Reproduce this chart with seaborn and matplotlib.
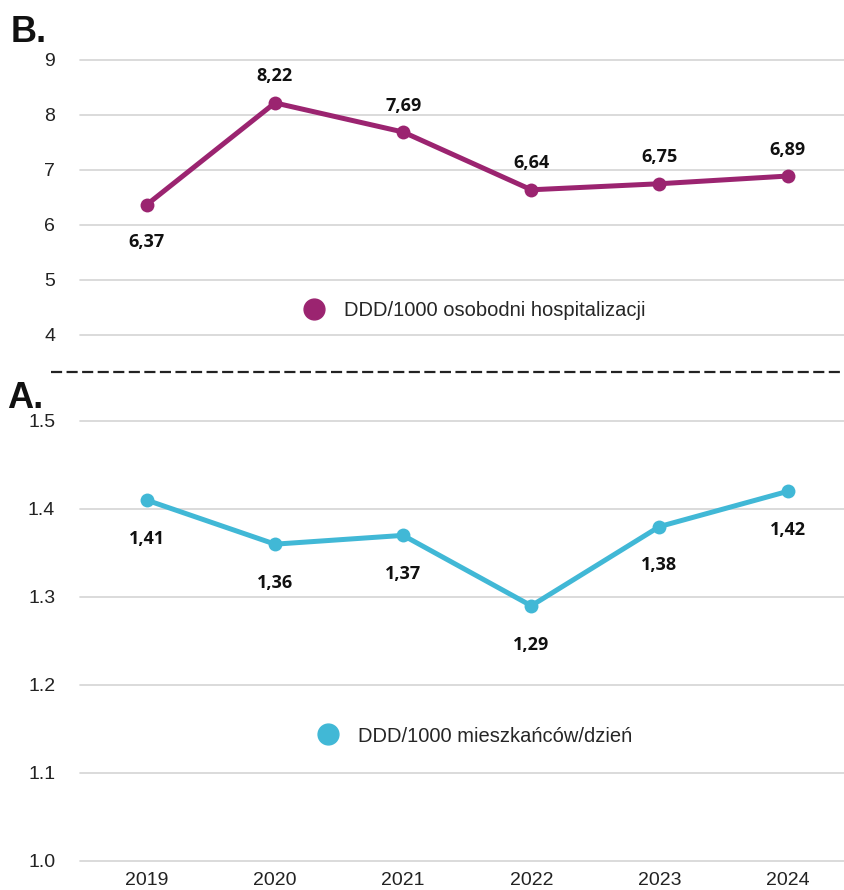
import pandas as pd
import seaborn as sns
import matplotlib.pyplot as plt
from matplotlib.lines import Line2D

years = ['2019', '2020', '2021', '2022', '2023', '2024']
hosp = [6.37, 8.22, 7.69, 6.64, 6.75, 6.89]
resid = [1.41, 1.36, 1.37, 1.29, 1.38, 1.42]
hosp_label_above = [False, True, True, True, True, True]
hosp_name = 'DDD/1000 osobodni hospitalizacji'
resid_name = 'DDD/1000 mieszkańców/dzień'

purple = '#9b2470'
cyan = '#41b8d6'

sns.set_theme(style='white')
plt.rcParams['font.family'] = ['Liberation Sans', 'DejaVu Sans']

df = pd.DataFrame({'year': years, 'hosp': hosp, 'resid': resid})
df['x'] = range(len(years))

fig = plt.figure(figsize=(8.44, 8.90), dpi=100)
ax_b = fig.add_axes([0.095, 0.6236, 0.905, 0.309])
ax_a = fig.add_axes([0.095, 0.0326, 0.905, 0.4944])


def style_axis(ax, ylim, yticks, fmt):
    ax.set_xlim(-0.52, 5.44)
    ax.set_ylim(*ylim)
    ax.set_yticks(yticks)
    ax.set_yticklabels([fmt.format(t) for t in yticks], fontsize=14, color='#222222')
    ax.grid(axis='y', color='#d4d4d4', linewidth=1.2)
    ax.set_axisbelow(True)
    for g in ax.get_ygridlines():
        g.set_clip_on(False)
    for s in ax.spines.values():
        s.set_visible(False)
    ax.tick_params(axis='both', length=0, pad=18)
    ax.set_xlabel('')
    ax.set_ylabel('')


def data_label(ax, i, v, off):
    ax.annotate(f'{v:.2f}'.replace('.', ','), (i, v), xytext=(0, off),
                textcoords='offset points', ha='center', va='center',
                fontsize=13, fontweight='bold', family='Open Sans', color='#111111')


# B. top panel
sns.lineplot(data=df, x='x', y='hosp', ax=ax_b, color=purple, linewidth=3.6,
             marker='o', markersize=10, markeredgewidth=0, clip_on=False)
style_axis(ax_b, (4, 9), [4, 5, 6, 7, 8, 9], '{:.0f}')
ax_b.set_xticks([])
for i, v in enumerate(hosp):
    data_label(ax_b, i, v, 19 if hosp_label_above[i] else -27)
h_b = Line2D([], [], linestyle='none', marker='o', markersize=15, color=purple)
ax_b.legend([h_b], [hosp_name], loc='center', bbox_to_anchor=(0.51, 0.09),
            frameon=False, fontsize=14.5, handletextpad=0.5)

# A. bottom panel
sns.lineplot(data=df, x='x', y='resid', ax=ax_a, color=cyan, linewidth=3.6,
             marker='o', markersize=10, markeredgewidth=0, clip_on=False)
style_axis(ax_a, (1.0, 1.5), [1.0, 1.1, 1.2, 1.3, 1.4, 1.5], '{:.1f}')
ax_a.set_xticks(df['x'])
ax_a.set_xticklabels(years, fontsize=14, color='#222222')
ax_a.tick_params(axis='x', pad=8)
for i, v in enumerate(resid):
    data_label(ax_a, i, v, -28)
h_a = Line2D([], [], linestyle='none', marker='o', markersize=15, color=cyan)
ax_a.legend([h_a], [resid_name], loc='center', bbox_to_anchor=(0.51, 0.284),
            frameon=False, fontsize=14.5, handletextpad=0.5)

# dashed separator and panel letters
fig.add_artist(Line2D([0.06, 1.0], [1 - 372 / 890, 1 - 372 / 890], transform=fig.transFigure,
                      color='#222222', linewidth=1.6, linestyle=(0, (5, 2))))
fig.text(0.012, 1 - 32 / 890, 'B.', fontsize=26, fontweight='bold',
         va='center', color='#111111')
fig.text(0.008, 1 - 398 / 890, 'A.', fontsize=26, fontweight='bold',
         va='center', color='#111111')

fig.savefig('out.png', dpi=100)
